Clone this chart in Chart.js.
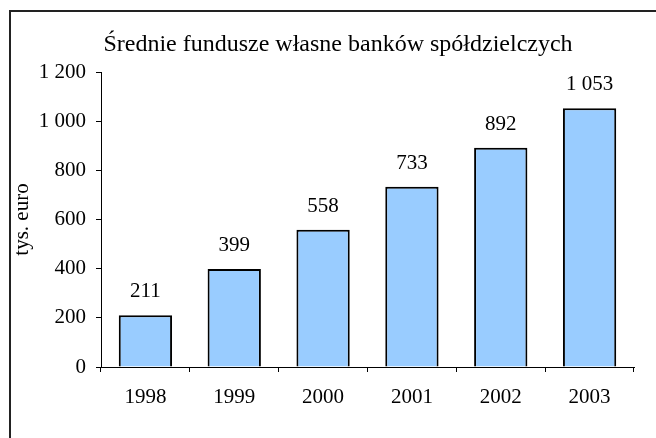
<!DOCTYPE html>
<html>
<head>
<meta charset="utf-8">
<script src="https://cdn.jsdelivr.net/npm/chart.js@4/dist/chart.umd.min.js"></script>
<style>
  html, body { margin: 0; padding: 0; background: #fff; }
  #wrap { width: 656px; height: 438px; position: relative; }
</style>
</head>
<body>
<div id="wrap"><canvas id="fundsChart" width="656" height="438"></canvas></div>
<script>
const years = ["1998", "1999", "2000", "2001", "2002", "2003"];
const fundValues = [211, 399, 558, 733, 892, 1053];
const yTicks = [0, 200, 400, 600, 800, 1000, 1200];

const chartTitle = "Średnie fundusze własne banków spółdzielczych";
const serif = "'Liberation Serif', 'Times New Roman', serif";

function formatPl(value) {
  return String(value).replace(/\B(?=(\d{3})+(?!\d))/g, " ");
}

const framePlugin = {
  id: "frame",
  afterDraw(chart) {
    const ctx = chart.ctx;
    ctx.save();
    ctx.strokeStyle = "#222";
    ctx.lineWidth = 2;
    ctx.beginPath();
    ctx.moveTo(10, 438);
    ctx.lineTo(10, 11);
    ctx.lineTo(656, 11);
    ctx.stroke();

    ctx.fillStyle = "#000";
    ctx.font = "24px " + serif;
    ctx.textAlign = "center";
    ctx.textBaseline = "middle";
    ctx.fillText(chartTitle, 338, 45);

    // value labels above bars
    const meta = chart.getDatasetMeta(0);
    ctx.font = "21px " + serif;
    ctx.textBaseline = "alphabetic";
    meta.data.forEach((bar, i) => {
      ctx.fillText(formatPl(fundValues[i]), bar.x, bar.y - 18);
    });
    ctx.restore();
  },
};

new Chart(document.getElementById("fundsChart"), {
  type: "bar",
  data: {
    labels: years,
    datasets: [
      {
        label: "tys. euro",
        data: fundValues,
        backgroundColor: "#99ccff",
        borderColor: "#000",
        borderWidth: 2,
        borderSkipped: "bottom",
        categoryPercentage: 1,
        barPercentage: 0.6,
      },
    ],
  },
  options: {
    responsive: false,
    animation: false,
    events: [],
    layout: { padding: { top: 72, right: 22, bottom: 0, left: 0 } },
    plugins: {
      legend: { display: false },
      tooltip: { enabled: false },
    },
    scales: {
      x: {
        grid: {
          offset: true,
          drawOnChartArea: false,
          color: "#000",
          tickLength: 5,
        },
        border: { color: "#000", width: 1 },
        ticks: {
          color: "#000",
          font: { family: serif, size: 21 },
          padding: 13,
        },
        afterFit(scale) {
          scale.height = 71;
        },
      },
      y: {
        min: 0,
        max: 1200,
        afterBuildTicks(scale) {
          scale.ticks = yTicks.map((v) => ({ value: v }));
        },
        grid: {
          drawOnChartArea: false,
          color: "#000",
          tickLength: 5,
        },
        border: { color: "#000", width: 1 },
        ticks: {
          color: "#000",
          font: { family: serif, size: 21 },
          padding: 10,
          callback: (value) => formatPl(value),
        },
        title: {
          display: true,
          text: "tys. euro",
          color: "#000",
          font: { family: serif, size: 21 },
          padding: { top: 10, bottom: 0 },
        },
        afterFit(scale) {
          scale.width = 101;
        },
      },
    },
  },
  plugins: [framePlugin],
});
</script>
</body>
</html>
